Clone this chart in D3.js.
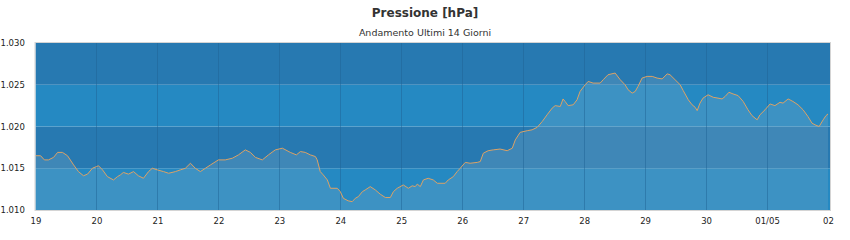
<!DOCTYPE html>
<html><head><meta charset="utf-8">
<script src="https://cdn.jsdelivr.net/npm/d3@7"></script>
<style>body{margin:0;background:#fff}svg{display:block}text{font-family:"DejaVu Sans",sans-serif}</style>
</head><body><svg id="c" width="850" height="240"></svg>
<script>
const title = "Pressione [hPa]";
const subtitle = "Andamento Ultimi 14 Giorni";
const dayLabels = ["19","20","21","22","23","24","25","26","27","28","29","30","01/05","02"];
const yTicks = [1010,1015,1020,1025,1030];
const yTickLabels = ["1.010","1.015","1.020","1.025","1.030"];
// hours since start (19th 00:00)
const hours = [0,2,3.5,5.1,7.1,8.7,10.6,12.6,15,16.9,18.9,20.5,22.4,24,24.8,26.4,28.3,30.7,32.3,33.4,34.6,36.6,38.6,40.5,
42.5,44.5,46,48,50.4,52.4,55.1,57,59,61,62.9,64.9,66.9,68.9,72,74.7,77.5,79.9,82.6,84.6,86.6,89.3,91.7,94.4,97.2,100.3,102.7,
104.3,106.2,108.2,110.2,110.9,112.1,113.3,114.9,116.1,118.8,120,121.2,123.1,124.7,125.9,127.1,128.7,129.8,131.8,133.8,135.7,137.7,139.7,
140.9,142.4,144.8,146.8,148.3,149.5,150.3,151.5,152.7,154.6,156.6,158.2,161.3,162.5,164.5,166,167.2,169.2,171.1,173.9,175.1,176.3,
178.2,180.2,182.9,185.7,187.7,188.9,190.8,193.6,195.5,197.5,199.5,201.4,203.4,204.6,206.6,207.7,208.5,209.7,211.7,213.2,214.4,
216.4,217.6,219.5,222.3,223.5,225.4,228.2,230.2,232.1,233.3,234.9,236.1,237.2,238.8,240.8,242.8,244.7,246.7,248.7,249.8,251.8,
253.8,255,257,258.5,259.7,260.5,261.6,262.8,264.8,266.8,268.7,270.3,271.5,273,274.6,276.6,278.6,280.5,282.1,284.1,285.2,287.2,
289.2,291.1,293.1,294.3,296.3,298.2,300.2,302.2,304.1,305.7,306.9,308.5,310.1,311.2,312];
const pressure = [1016.5,1016.5,1016.0,1016.0,1016.3,1016.9,1016.9,1016.5,1015.4,1014.6,1014.1,1014.3,1015.0,1015.2,1015.3,1014.8,1014.0,1013.6,1014.0,1014.2,1014.5,1014.3,1014.6,1014.1,
1013.8,1014.6,1015.0,1014.8,1014.6,1014.4,1014.6,1014.8,1015.0,1015.6,1015.0,1014.6,1015.0,1015.4,1016.0,1016.0,1016.2,1016.6,1017.2,1016.9,1016.3,1016.0,1016.6,1017.2,1017.4,1016.9,1016.6,
1017.0,1016.9,1016.6,1016.4,1016.0,1014.6,1014.2,1013.6,1012.6,1012.6,1012.2,1011.4,1011.1,1011.0,1011.4,1011.6,1012.2,1012.4,1012.8,1012.4,1011.9,1011.5,1011.5,
1012.2,1012.6,1013.0,1012.6,1012.9,1012.8,1013.1,1012.8,1013.6,1013.8,1013.6,1013.2,1013.2,1013.6,1014.0,1014.6,1015.0,1015.7,1015.6,1015.7,1015.8,1016.8,
1017.1,1017.2,1017.3,1017.1,1017.4,1018.4,1019.3,1019.5,1019.6,1019.9,1020.6,1021.4,1022.2,1022.5,1022.4,1023.3,1023.0,1022.5,1022.6,1023.2,1024.2,
1025.0,1025.4,1025.2,1025.2,1025.6,1026.2,1026.4,1025.6,1025.0,1024.4,1024.0,1024.2,1024.8,1025.8,1026.0,1026.0,1025.8,1025.7,1026.3,1026.2,1025.6,
1025.0,1024.3,1023.2,1022.6,1022.3,1021.9,1022.8,1023.4,1023.8,1023.5,1023.4,1023.3,1023.6,1024.1,1023.9,1023.7,1023.0,1022.0,1021.3,1020.8,1021.4,1022.0,
1022.7,1022.5,1022.9,1022.8,1023.3,1023.0,1022.6,1022.0,1021.2,1020.4,1020.2,1020.0,1020.8,1021.3,1021.5];

const data = hours.map((h,i)=>({h, v: pressure[i]}));
const svg = d3.select("#c");
const L = 35.5, R = 830, T = 43, B = 210;
const x = d3.scaleLinear().domain([0, 13*24]).range([L, 828]);
const y = d3.scaleLinear().domain([1010, 1030]).range([B, T]);

svg.append("text").attr("x",425).attr("y",17).attr("text-anchor","middle")
  .attr("font-size",12).attr("font-weight","bold").attr("fill","#333").text(title);
svg.append("text").attr("x",425).attr("y",36).attr("text-anchor","middle")
  .attr("font-size",9.5).attr("fill","#333").text(subtitle);

// bands
const bandColors = ["#2589c2","#2779b1"];
const g = svg.append("g");
for (let i=0;i<yTicks.length-1;i++){
  g.append("rect").attr("x",L).attr("width",R-L)
   .attr("y",y(yTicks[i+1])).attr("height",y(yTicks[i])-y(yTicks[i+1]))
   .attr("fill",bandColors[i%2===0?0:1]);
}
// area
const area = d3.area().x(d=>x(d.h)).y0(B).y1(d=>y(d.v)).curve(d3.curveLinear);
g.append("path").datum(data).attr("d",area).attr("fill","rgb(120,170,200)").attr("fill-opacity",0.3);
// vertical grid
const dayTicks = d3.range(0,14).map(d=>d*24);
g.selectAll("line.vg").data(dayTicks.slice(1,13)).enter().append("line")
  .attr("x1",d=>Math.round(x(d))+0.5).attr("x2",d=>Math.round(x(d))+0.5).attr("y1",T).attr("y2",B)
  .attr("stroke","#1f6396").attr("stroke-opacity",0.5);
// line
const line = d3.line().x(d=>x(d.h)).y(d=>y(d.v)).curve(d3.curveLinear);
g.append("path").datum(data).attr("d",line).attr("fill","none").attr("stroke","#dca266").attr("stroke-width",1);
// border
g.append("rect").attr("x",L-0.5).attr("y",T-0.5).attr("width",R-L+1).attr("height",B-T+1)
  .attr("fill","none").attr("stroke","#d4d4d4").attr("stroke-width",1);

// axes
const xAxis = d3.axisBottom(x).tickValues(dayTicks).tickSize(0).tickPadding(8)
  .tickFormat((d,i)=>dayLabels[i]);
const xa = svg.append("g").attr("transform",`translate(0,${B})`).call(xAxis);
xa.select(".domain").remove();
xa.selectAll("text").attr("font-size",8.5).attr("fill","#222").attr("font-family","DejaVu Sans");
const yAxis = d3.axisLeft(y).tickValues(yTicks).tickSize(0).tickPadding(8)
  .tickFormat((d,i)=>yTickLabels[i]);
const ya = svg.append("g").attr("transform",`translate(${L},0)`).call(yAxis);
ya.select(".domain").remove();
ya.selectAll("text").attr("font-size",8.5).attr("fill","#222").attr("font-family","DejaVu Sans")
  .attr("text-anchor","start").attr("x",-35);
</script></body></html>
